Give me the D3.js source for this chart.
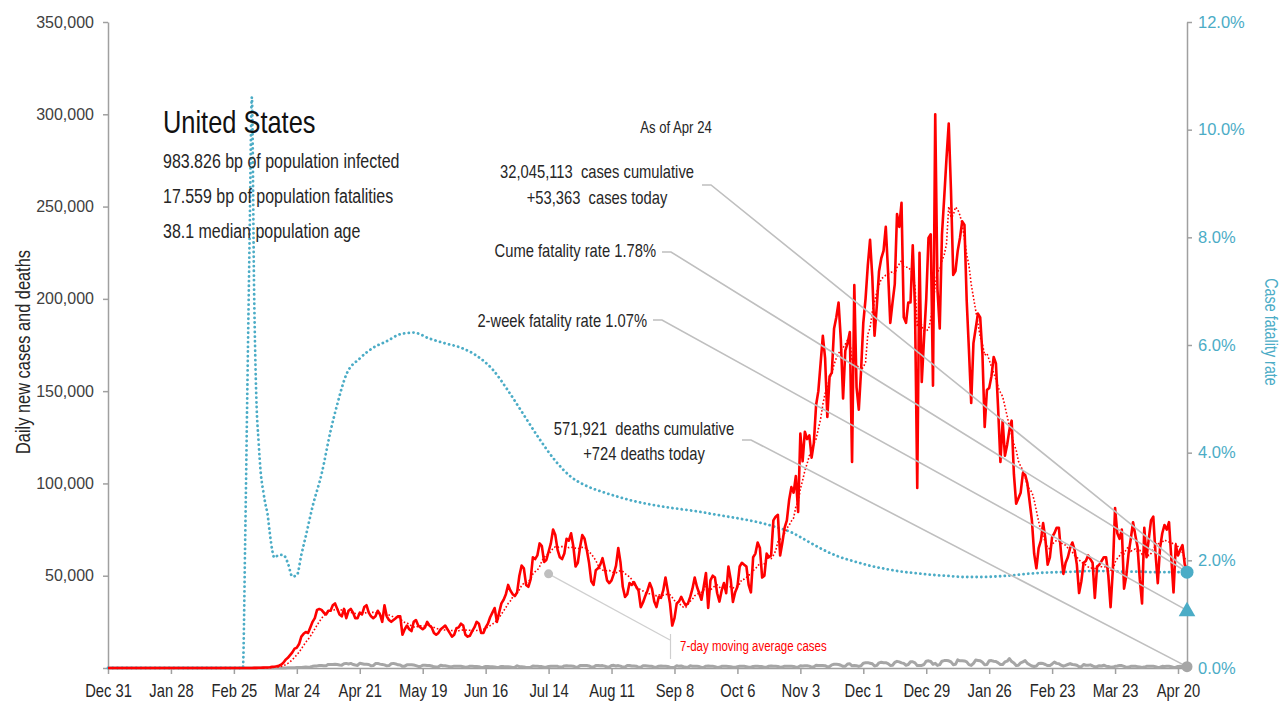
<!DOCTYPE html>
<html>
<head>
<meta charset="utf-8">
<script src="https://cdn.jsdelivr.net/npm/d3@7"></script>
<style>
  body { margin: 0; background: #fff; }
  svg { display: block; }
  text { white-space: pre; }
</style>
</head>
<body>
<div id="vizOne"></div>
<script>
const wh = 1286,
    ht = 705;

const plain = "'Liberation Sans', Arial, sans-serif";
const squeeze = 0.82; // horizontal squeeze to get a narrow face out of Liberation Sans
const blue = "#4bacc6", red = "#ff0000", grey = "#a6a6a6";

// first day of every series
const startDay = "2019-12-31";

const tickDates = ["2019-12-31","2020-01-28","2020-02-25","2020-03-24","2020-04-21","2020-05-19",
    "2020-06-16","2020-07-14","2020-08-11","2020-09-08","2020-10-06","2020-11-03","2020-12-01",
    "2020-12-29","2021-01-26","2021-02-23","2021-03-23","2021-04-20"];

// daily new cases, thousands, one row per week (rows start on a Tuesday)
const dailyCasesK = [
    0,0,0,0,0,0,0,
    0,0,0,0,0,0,0,
    0,0,0,0,0,0,0,
    0,0,0,0,0,0,0,
    0,0,0,0,0,0,0,
    0,0,0,0,0,0,0,
    0,0,0,0,0,0,0,
    0,0,0,0,0,0,0,
    0,0,0,0,0,0.02,0.03,
    0.02,0.03,0.07,0.07,0.1,0.1,0.2,
    0.3,0.3,0.4,0.6,0.7,0.9,1.2,
    1.8,2.8,4.5,5.5,7,8.5,10.5,
    11,13,17,18.5,19.5,19,22,
    25,27,31.5,32,31.5,30,29,
    31,31,34,35,32,29,28,
    32,27,31,32,30,27,27,
    30,29,33,34,30,28,27,
    28,31,29,25,34,28,26,
    25,26,27,28,28,18,21,
    23,21,20,25,26,23,22,
    21,22,25,23,22,19,18,
    19,21,22,23,21,19,17,
    18,21.5,22,24,23,18,17,
    17.5,20,22,25,24,19,19,
    22,24,27.5,30,32.5,25,30,
    35,37,40,45,42,40,39,
    41,50,55.5,54,45,44,48,
    60,59,61,67.5,66,57.5,58.5,
    63,67.5,75,72,64,60,59,
    62,70,69,73,66,55,57,
    65.5,72,70,64,57,47,45,
    53,54,56,59.5,54,47.5,46,
    47.5,51,55.5,65,57,44,38.5,
    40,46,45,46.5,44,42,33,
    35.5,39,42,46,43,36,33,
    38.5,38,42,49,42,35,23,
    27,35,36,38.5,36,34,35,
    38.5,43,49,44,40.5,37,44,
    51.5,32.5,47.5,50,49,40.5,36,
    42,46,40.5,55,48,35.8,41,
    44,55,57,56,55,45,41,
    60,62,68,65,49,50,62,
    60,61,80,82,83,61,68,
    76,80,91,98,95,104,84.5,
    127,112,128,124,126,114,122,
    142.5,150,165,180,168,136,158,
    160,184,190,198,178,146,172,
    176,182,111.6,207.5,152,140,161,
    187,200,218,232,212,180,196,
    215,222,226,239,215,187,198,
    208,246,239,252,190,187,198,
    198,229,195,97.5,225,155,178,
    200,233,235,153,300,205,184,
    235,255,276,295,259,213,215,
    226,233,242,240,199,172,143.6,
    176,184,192,190,170,130.6,150.6,
    151.7,158,168.5,165,140,111.6,134,
    115,121,129,134,105,89,92,
    95,105.6,104.6,100,90,80,62,
    54,65,69,78.5,70,56,60,
    71,73,76,76,62,51,57,
    60,65,68,64,56,40.6,47,
    57,58,61,59,57,38,55,
    56,58,60,60,50,33,53,
    86.7,73,70,75,43,50,62,
    70,79,72,65.6,48,35,76,
    60,70,80,82,62,46,65,
    73,77.5,75,79,60,41,66.6,
    61,64,66.6,56,53.363
];

// daily new deaths, same layout
const dailyDeaths = [
    0,0,0,0,0,0,0,
    0,0,0,0,0,0,0,
    0,0,0,0,0,0,0,
    0,0,0,0,0,0,0,
    0,0,0,0,0,0,0,
    0,0,0,0,0,0,0,
    0,0,0,0,0,0,0,
    0,0,0,0,0,0,0,
    0,0,0,0,1,0,1,
    3,3,1,2,3,4,4,
    5,8,9,11,10,10,18,
    25,30,50,70,90,110,140,
    220,280,330,450,500,430,550,
    900,1100,1150,1350,1300,1200,1250,
    1950,1950,1900,2000,1900,1600,1550,
    2300,2500,2200,2500,1900,1600,1400,
    2600,2300,2000,2000,1900,1200,1300,
    2400,2500,2100,1900,1700,1200,1300,
    2300,2500,2200,1700,1600,900,1000,
    1700,1700,1800,1600,1300,850,800,
    1500,1500,1300,1300,1100,650,500,
    700,1500,1200,1200,1000,700,700,
    1000,1000,1000,900,700,400,500,
    1000,900,800,800,700,300,400,
    800,750,700,650,600,300,400,
    850,750,700,650,500,300,350,
    1200,700,700,600,300,250,400,
    1100,950,950,800,750,400,400,
    850,1000,950,1000,900,500,500,
    1100,1200,1100,1100,1000,450,550,
    1300,1400,1300,1300,1100,500,550,
    1300,1400,1200,1300,1000,550,550,
    1400,1450,1100,1300,1000,500,500,
    1300,1300,1100,1100,1000,400,450,
    1200,1200,1100,1000,900,400,450,
    1000,1100,1000,1000,800,400,300,
    450,1200,900,1100,700,400,400,
    1200,1000,900,900,800,300,400,
    1000,1100,900,950,750,300,350,
    900,1000,900,800,700,400,350,
    700,900,950,900,700,400,400,
    800,900,900,850,750,400,450,
    950,1100,900,950,800,450,500,
    1000,1000,1000,950,850,450,550,
    1200,1150,1200,1250,1000,500,700,
    1450,1400,1300,1300,1250,650,800,
    1700,2000,2000,1900,1500,900,950,
    2200,2300,1200,1400,1200,850,1200,
    2600,2800,2900,2600,2300,1100,1400,
    2800,3100,2900,2900,2400,1400,1500,
    3000,3600,3300,2800,2500,1500,1900,
    3400,3400,2800,1300,1400,1400,1900,
    3700,3900,3500,2000,2500,1400,1800,
    3700,4000,4100,3900,3300,1800,2000,
    4400,3900,3900,3800,3300,1800,1400,
    2500,4300,4100,3900,3100,1800,1900,
    3900,4000,3700,3500,2800,1900,1900,
    3300,3700,5100,3500,2700,1300,1500,
    2800,3300,4000,2500,1800,1100,800,
    1100,2400,2600,2400,1900,1300,1300,
    2200,3200,2500,2300,1500,1000,1400,
    1900,2400,1900,1800,1500,700,700,
    1900,1500,1500,1700,1100,600,800,
    1200,1100,1500,1000,800,400,500,
    900,1100,1400,1300,900,300,500,
    900,1000,950,750,500,250,500,
    900,1000,950,900,700,300,450,
    900,800,900,900,700,300,450,
    850,900,850,900,724
];

// case fatality rate (%), by day number
const cfrDay = [0,60,61,62,63,64,65,66,67,68,69,70,71,72,73,74,76,78,80,82,84,86,88,
    91,95,99,102,106,112,118,124,130,136,
    143,150,157,164,171,178,185,192,199,206,213,220,227,234,241,248,255,262,269,276,283,290,
    297,304,311,318,325,332,339,346,353,360,367,374,381,388,395,402,409,416,423,430,437,444,
    451,458,465,472,480];
const cfrPct = [0,0,2.3,5.2,8.0,10.6,7.0,5.0,4.2,3.6,3.3,3.05,2.85,2.5,2.2,2.05,2.1,2.1,1.95,1.7,1.72,2.1,2.45,
    3.0,3.6,4.4,4.9,5.45,5.75,5.95,6.07,6.2,6.23,
    6.12,6.03,5.95,5.8,5.55,5.15,4.7,4.25,3.85,3.55,3.38,3.27,3.18,3.1,3.04,2.99,2.95,2.91,2.86,2.81,2.76,2.7,
    2.62,2.52,2.36,2.2,2.07,1.98,1.9,1.84,1.79,1.76,1.73,1.71,1.69,1.69,1.7,1.72,1.75,1.77,1.78,1.79,1.8,1.8,
    1.79,1.79,1.78,1.78,1.78];

const countryName = "United States";
const infectedBp = 983.826, fatalBp = 17.559, medianAge = 38.1;
const cumCases = 32045113, casesToday = 53363;
const cumDeaths = 571921, deathsToday = 724;
const cumeRate = 1.78, twoWeekRate = 1.07;
const maNoteDay = "2020-07-14", maNoteValue = 51000;

const parse = d3.utcParse("%Y-%m-%d");
const t0 = parse(startDay);
const dayAt = i => d3.utcDay.offset(t0, i);

const cases = dailyCasesK.map((v, i) => ({date: dayAt(i), value: v * 1000}));
const avg7 = cases.map((d, i) => ({
    date: d.date,
    value: d3.mean(cases.slice(Math.max(0, i - 6), i + 1), w => w.value)
}));
const deaths = dailyDeaths.map((v, i) => ({date: dayAt(i), value: v}));
const cfr = cfrDay.map((day, i) => ({date: dayAt(day), value: cfrPct[i] / 100}));
const lastDate = cases[cases.length - 1].date;

const svg = d3.select("#vizOne")
    .append("svg")
    .attr("width", wh)
    .attr("height", ht)
    .style("font-family", plain);

const x = d3.scaleUtc().domain([t0, lastDate]).range([108, 1187]);
const y = d3.scaleLinear().domain([0, 350000]).range([668, 22]);
const yR = d3.scaleLinear().domain([0, 0.12]).range([668, 22]);

// axes
const xAxis = svg.append("g")
    .attr("transform", "translate(0,668)")
    .call(d3.axisBottom(x)
        .tickValues(tickDates.map(parse))
        .tickFormat(d3.utcFormat("%b %-d"))
        .tickSize(6).tickSizeOuter(0).tickPadding(10));
xAxis.selectAll("text")
    .style("font-family", plain).style("font-size", "18px")
    .attr("transform", "scale(" + squeeze + ",1)")
    .attr("fill", "#262626");

const leftAxis = svg.append("g")
    .attr("transform", "translate(108,0)")
    .call(d3.axisLeft(y)
        .tickValues(d3.range(0, 350001, 50000))
        .tickFormat(d => d === 0 ? "" : d3.format(",")(d))
        .tickSize(5).tickSizeOuter(0).tickPadding(9));
leftAxis.selectAll("text").style("font-family", plain).style("font-size", "16px").attr("fill", "#404040");

const rightAxis = svg.append("g")
    .attr("transform", "translate(1187,0)")
    .call(d3.axisRight(yR)
        .tickValues(d3.range(0, 0.1201, 0.02))
        .tickFormat(d3.format(".1%"))
        .tickSize(5).tickSizeOuter(0).tickPadding(6));
rightAxis.selectAll("text").style("font-family", plain).style("font-size", "16.5px").attr("fill", blue);

svg.selectAll(".domain, .tick line").attr("stroke", "#a0a0a0").attr("stroke-width", 1.5);

svg.append("text")
    .attr("transform", "translate(30,352) rotate(-90) scale(" + squeeze + ",1)")
    .attr("text-anchor", "middle")
    .style("font-size", "20px")
    .attr("fill", "#262626")
    .text("Daily new cases and deaths");

svg.append("text")
    .attr("transform", "translate(1265,332) rotate(90) scale(" + squeeze + ",1)")
    .attr("text-anchor", "middle")
    .style("font-size", "17.5px")
    .attr("fill", blue)
    .text("Case fatality rate");

// series
const lineL = d3.line().x(d => x(d.date)).y(d => y(d.value));

svg.append("path").datum(deaths)
    .attr("d", lineL)
    .attr("fill", "none").attr("stroke", grey).attr("stroke-width", 3)
    .attr("stroke-linejoin", "round");

svg.append("path").datum(cfr)
    .attr("d", d3.line().curve(d3.curveMonotoneX).x(d => x(d.date)).y(d => yR(d.value)))
    .attr("fill", "none").attr("stroke", blue).attr("stroke-width", 2.8)
    .attr("stroke-dasharray", "0.1,4.6").attr("stroke-linecap", "round");

svg.append("path").datum(cases)
    .attr("d", lineL)
    .attr("fill", "none").attr("stroke", red).attr("stroke-width", 2.6)
    .attr("stroke-linejoin", "round");

svg.append("path").datum(avg7)
    .attr("d", lineL)
    .attr("fill", "none").attr("stroke", red).attr("stroke-width", 1.6)
    .attr("stroke-dasharray", "1.6,2");

// end markers
const endX = x(lastDate);
const pCases = [endX, y(casesToday)],
    pCume = [endX, yR(cumeRate / 100)],
    pTwo = [endX, yR(twoWeekRate / 100)],
    pDeaths = [endX, y(deathsToday)];

// leader lines
const leaders = [
    [[702, 185], [711, 185], pCases],
    [[662, 252], [671, 252], pCume],
    [[653, 320], [662, 320], pTwo],
    [[742, 440], [751, 440], pDeaths]
];
svg.selectAll(".leader").data(leaders).enter()
    .append("path")
    .attr("class", "leader")
    .attr("d", d3.line())
    .attr("fill", "none").attr("stroke", "#bfbfbf").attr("stroke-width", 1.6);

const pNote = [x(parse(maNoteDay)), y(maNoteValue)];
svg.append("path")
    .attr("d", d3.line()([pNote, [670, 640]]))
    .attr("fill", "none").attr("stroke", "#cfcfcf").attr("stroke-width", 1.2);
svg.append("line")
    .attr("x1", 670.5).attr("x2", 670.5).attr("y1", 634).attr("y2", 659)
    .attr("stroke", "#cfcfcf").attr("stroke-width", 1.2);
svg.append("circle").attr("cx", pNote[0]).attr("cy", pNote[1]).attr("r", 4.5).attr("fill", "#bfbfbf");

svg.append("circle").attr("cx", pDeaths[0]).attr("cy", pDeaths[1]).attr("r", 5.5).attr("fill", grey);
svg.append("path")
    .attr("d", d3.symbol(d3.symbolTriangle, 120)())
    .attr("transform", "translate(" + pTwo[0] + "," + (pTwo[1] + 1) + ")")
    .attr("fill", blue);
svg.append("circle").attr("cx", pCume[0]).attr("cy", pCume[1]).attr("r", 6.5).attr("fill", blue);

// text, narrowed
function label(txt, tx, ty, size, anchor, color) {
    return svg.append("text")
        .attr("transform", "translate(" + tx + "," + ty + ") scale(" + squeeze + ",1)")
        .attr("text-anchor", anchor || "start")
        .style("font-size", size + "px")
        .attr("fill", color || "#262626")
        .text(txt);
}

const fmt = d3.format(",");
label(countryName, 163, 133, 31, "start", "#111");
label(infectedBp + " bp of population infected", 163, 168, 19.5);
label(fatalBp + " bp of population fatalities", 163, 203, 19.5);
label(medianAge + " median population age", 163, 238, 19.5);

label("As of " + d3.utcFormat("%b %-d")(lastDate), 676, 133, 16, "middle");
label(fmt(cumCases) + "  cases cumulative", 597, 178, 18, "middle");
label("+" + fmt(casesToday) + "  cases today", 597, 204, 18, "middle");
label("Cume fatality rate " + cumeRate.toFixed(2) + "%", 656, 257, 18, "end");
label("2-week fatality rate " + twoWeekRate.toFixed(2) + "%", 647, 327, 18, "end");
label(fmt(cumDeaths) + "  deaths cumulative", 644, 435, 18, "middle");
label("+" + fmt(deathsToday) + " deaths today", 644, 460, 18, "middle");
label("7-day moving average cases", 680, 651, 14, "start", red);
</script>
</body>
</html>
